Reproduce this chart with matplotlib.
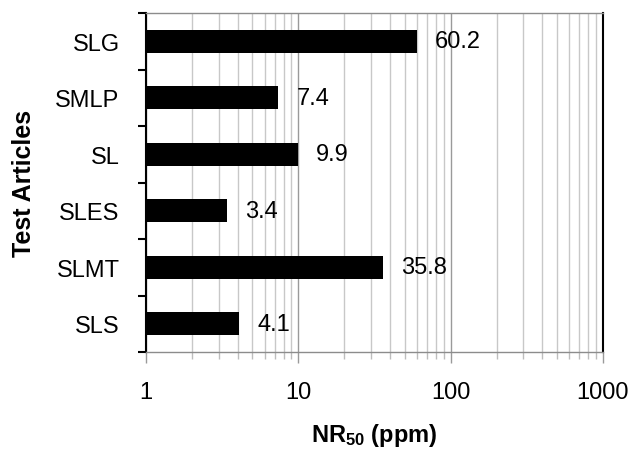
import matplotlib
matplotlib.use("Agg")
import matplotlib.pyplot as plt
from matplotlib.ticker import LogLocator, NullFormatter, FixedLocator

plt.rcParams["font.family"] = ["Liberation Sans", "DejaVu Sans"]
plt.rcParams["mathtext.default"] = "regular"

articles = ["SLG", "SMLP", "SL", "SLES", "SLMT", "SLS"]
nr50 = [60.2, 7.4, 9.9, 3.4, 35.8, 4.1]
labels = ["60.2", "7.4", "9.9", "3.4", "35.8", "4.1"]

fig = plt.figure(figsize=(6.32, 4.52), dpi=100)
ax = fig.add_axes([146 / 632, 1 - 353 / 452, (603 - 146) / 632, (353 - 14) / 452])

n = len(articles)
ypos = list(range(n - 1, -1, -1))
ax.barh(ypos, nr50, left=0, height=0.41, color="black", zorder=3)

# value labels right of each bar
for y, v, lab in zip(ypos, nr50, labels):
    ax.annotate(lab, (v, y), xytext=(13, 0), textcoords="offset points",
                ha="left", va="center", fontsize=17, zorder=4)

ax.set_xscale("log")
ax.set_xlim(1, 1000)
ax.set_ylim(-0.5, n - 0.5)

ax.xaxis.set_minor_locator(LogLocator(base=10, subs=range(2, 10), numticks=20))
ax.xaxis.set_minor_formatter(NullFormatter())
ax.set_xticks([1, 10, 100, 1000])
ax.set_xticklabels(["1", "10", "100", "1000"])

ax.grid(which="major", axis="x", color="#9a9a9a", linewidth=1.0, zorder=0)
ax.grid(which="minor", axis="x", color="#c8c8c8", linewidth=1.0, zorder=0)

ax.set_yticks(ypos)
ax.set_yticklabels(articles)
ax.yaxis.set_minor_locator(FixedLocator([y + 0.5 for y in range(-1, n)]))
ax.tick_params(axis="y", which="major", length=0, labelsize=17, pad=19)
ax.tick_params(axis="y", which="minor", length=6, width=1.5, color="black", direction="out")
ax.tick_params(axis="x", which="major", length=8, width=1.0, color="#9a9a9a",
               labelsize=17, pad=13)
ax.tick_params(axis="x", which="minor", length=5, width=1.0, color="#bdbdbd")

for side in ["left", "right"]:
    ax.spines[side].set_color("black")
    ax.spines[side].set_linewidth(1.5)
for side in ["top", "bottom"]:
    ax.spines[side].set_color("#8c8c8c")
    ax.spines[side].set_linewidth(1.0)

ax.set_xlabel("NR$_{50}$ (ppm)", fontsize=17, fontweight="bold", labelpad=13)
ax.set_ylabel("Test Articles", fontsize=18, fontweight="bold", labelpad=14)

fig.savefig("out.png", dpi=100)
